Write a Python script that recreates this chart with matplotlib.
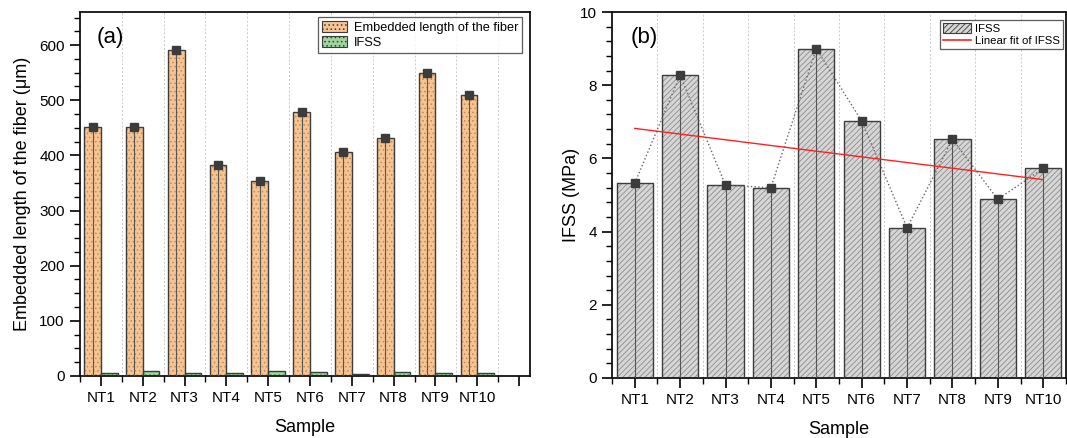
import numpy as np
import matplotlib
matplotlib.use("Agg")
import matplotlib.pyplot as plt
from matplotlib.patches import Patch
from matplotlib.lines import Line2D
from matplotlib.ticker import MultipleLocator

plt.rcParams['font.family'] = ['Liberation Sans', 'DejaVu Sans']
plt.rcParams['hatch.linewidth'] = 0.6

samples = ["NT1", "NT2", "NT3", "NT4", "NT5", "NT6", "NT7", "NT8", "NT9", "NT10"]
embedded_length = [452, 452, 591, 382, 353, 479, 407, 432, 550, 510]
ifss = [5.32, 8.27, 5.27, 5.20, 9.00, 7.02, 4.10, 6.52, 4.88, 5.73]
fit_ends = [6.82, 5.42]   # linear fit of IFSS, read at NT1 and NT10

x = np.arange(1, len(samples) + 1)
dark = '#3c3c3c'


def hatched_bar(ax, xs, hs, w, face, hatch_col, hatch):
    ax.bar(xs, hs, w, color=face, edgecolor=hatch_col, hatch=hatch, linewidth=0, zorder=2)
    ax.bar(xs, hs, w, fill=False, edgecolor=dark, linewidth=1.0, zorder=3)


def style_axes(ax):
    for s in ax.spines.values():
        s.set_linewidth(1.3)
        s.set_color('#111111')
    ax.tick_params(which='major', direction='out', length=7, width=1.2, labelsize=11, pad=4)
    ax.tick_params(which='minor', direction='out', length=4, width=1.0)


fig = plt.figure(figsize=(10.67, 4.38), dpi=100)
ax1 = fig.add_axes([0.075, 0.1416, 0.4217, 0.831])
ax2 = fig.add_axes([0.5736, 0.137, 0.4254, 0.8356])

# ---- panel (a)
w = 0.4
hatched_bar(ax1, x - w / 2, embedded_length, w, '#f6c493', '#c28a55', '....')
hatched_bar(ax1, x + w / 2, ifss, w, '#9fd49f', '#4c9a4c', '....')
ax1.vlines(x - w / 2, 0, embedded_length, color='#555555', lw=0.8, zorder=4)
ax1.plot(x - w / 2, embedded_length, 's', color=dark, ms=6, zorder=5)
ax1.set_xlim(0.5, 11.26)
ax1.set_ylim(0, 660)
ax1.set_xticks(list(x) + [11])
ax1.set_xticklabels(samples + [''])
ax1.xaxis.set_minor_locator(MultipleLocator(0.5))
ax1.yaxis.set_major_locator(MultipleLocator(100))
ax1.yaxis.set_minor_locator(MultipleLocator(25))
for g in np.arange(1.5, 11, 1):
    ax1.axvline(g, color='#c8c8c8', ls=(0, (2, 2)), lw=0.7, zorder=1)
style_axes(ax1)
ax1.set_ylabel("Embedded length of the fiber (μm)", fontsize=13, labelpad=6)
ax1.set_xlabel("Sample", fontsize=13, labelpad=10)
ax1.text(0.038, 0.96, "(a)", transform=ax1.transAxes, fontsize=16, va='top')
h1 = [Patch(facecolor='#f6c493', edgecolor=dark, hatch='....', lw=0.8),
      Patch(facecolor='#9fd49f', edgecolor=dark, hatch='....', lw=0.8)]
leg1 = ax1.legend(h1, ["Embedded length of the fiber", "IFSS"], loc='upper right',
                  bbox_to_anchor=(0.982, 0.986), borderaxespad=0, fontsize=9.2,
                  fancybox=False, edgecolor='#333333', handlelength=2.0,
                  handleheight=0.9, borderpad=0.3, labelspacing=0.2, handletextpad=0.5)
leg1.get_frame().set_linewidth(0.9)

# ---- panel (b)
wb = 0.8
hatched_bar(ax2, x, ifss, wb, '#d6d6d6', '#8c8c8c', '//////')
ax2.vlines(x, 0, ifss, color='#555555', lw=0.8, zorder=4)
ax2.plot(x, ifss, ':', color='#666666', lw=1.0, zorder=5)
ax2.plot(x, ifss, 's', color=dark, ms=6, zorder=6)
ax2.plot([x[0], x[-1]], fit_ends, color='#ff2020', lw=1.0, zorder=6)
ax2.set_xlim(0.5, 10.5)
ax2.set_ylim(0, 10)
ax2.set_xticks(x)
ax2.set_xticklabels(samples)
ax2.xaxis.set_minor_locator(MultipleLocator(0.5))
ax2.yaxis.set_major_locator(MultipleLocator(2))
ax2.yaxis.set_minor_locator(MultipleLocator(0.4))
for g in np.arange(1.5, 10, 1):
    ax2.axvline(g, color='#c8c8c8', ls=(0, (2, 2)), lw=0.7, zorder=1)
style_axes(ax2)
ax2.set_ylabel("IFSS (MPa)", fontsize=13, labelpad=0)
ax2.set_xlabel("Sample", fontsize=13, labelpad=10)
ax2.text(0.04, 0.96, "(b)", transform=ax2.transAxes, fontsize=16, va='top')
h2 = [Patch(facecolor='#d6d6d6', edgecolor=dark, hatch='//////', lw=0.8),
      Line2D([], [], color='#ff2020', lw=1.2)]
leg2 = ax2.legend(h2, ["IFSS", "Linear fit of IFSS"], loc='upper right',
                  bbox_to_anchor=(0.993, 0.978), borderaxespad=0, fontsize=8.2,
                  fancybox=False, edgecolor='#333333', handlelength=2.5,
                  handleheight=1.0, borderpad=0.25, labelspacing=0.1, handletextpad=0.3)
leg2.get_frame().set_linewidth(0.9)

fig.savefig("out.png", dpi=100)
